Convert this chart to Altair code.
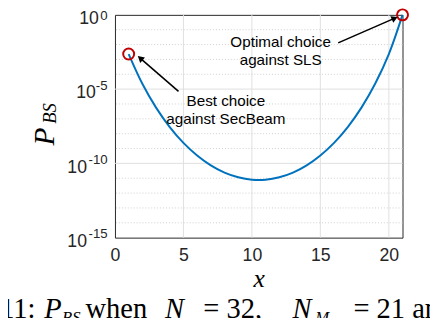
import altair as alt
import pandas as pd

# ---- data ----
x_vals = list(range(1, 22))
p_bs = [2.3e-3, 2.3e-5, 5.7e-7, 2.8e-8, 2.4e-9, 3.4e-10, 7.4e-11, 2.4e-11, 1.16e-11, 8.0e-12,
        8.0e-12, 1.16e-11, 2.4e-11, 7.4e-11, 3.4e-10, 2.4e-9, 2.8e-8, 5.7e-7, 2.3e-5, 2.3e-3, 1.0]

marked_x = [1, 21]
marked_p = [2.3e-3, 1.0]

x_ticks = [0, 5, 10, 15, 20]
y_major = [1.0, 1e-5, 1e-10, 1e-15]
y_exponents = ["0", "-5", "-10", "-15"]
y_minor = [1e-1, 1e-2, 1e-3, 1e-4, 1e-6, 1e-7, 1e-8, 1e-9,
           1e-11, 1e-12, 1e-13, 1e-14]

ann_text = ["Best choice\nagainst SecBeam", "Optimal choice\nagainst SLS"]
ann_x = [8.1, 12.1]
ann_y = [1.5e-6, 1.45e-2]

arrow_tail_x = [4.64, 16.3]
arrow_tail_y = [7.1e-6, 1.3e-2]
arrow_tip_x = [1.9, 20.36]
arrow_tip_y = [1.1e-3, 0.56]

# ---- scales and shared axes ----
xs = alt.Scale(domain=[0, 21], nice=False, zero=False)
ys = alt.Scale(type="log", domain=[1e-15, 1], nice=False)

x_axis = alt.Axis(
    values=x_ticks, title="x", grid=False, ticks=False, domain=False,
    labelFont="Liberation Sans", labelFontSize=18, labelColor="#262626",
    labelPadding=9, labelFlush=False, labelOverlap=False,
    titleFont="Liberation Serif", titleFontStyle="italic", titleFontWeight="normal",
    titleFontSize=26, titleColor="black", titleBaseline="alphabetic", titleY=50)
y_axis = alt.Axis(
    values=y_major, title="", grid=False, ticks=False, domain=False,
    labelExpr="'10'", labelFont="Liberation Sans", labelFontSize=18,
    labelColor="#262626", labelOffset=4, labelBaseline="middle",
    labelPadding={"condition": [{"test": "datum.value >= 0.5", "value": 17},
                                {"test": "datum.value > 1e-6", "value": 20}],
                  "value": 29},
    labelFlush=False, labelOverlap=False, labelBound=False)


def X(field):
    return alt.X(field, scale=xs, axis=x_axis)


def Y(field):
    return alt.Y(field, scale=ys, axis=y_axis)


curve = pd.DataFrame({"x": x_vals, "p": p_bs})
marks = pd.DataFrame({"x": marked_x, "p": marked_p})

vgrid = alt.Chart(pd.DataFrame({"x": x_ticks[1:]})).mark_rule(
    color="#dfdfdf", strokeWidth=1
).encode(x=X("x:Q"))

hgrid_major = alt.Chart(pd.DataFrame({"p": y_major[1:-1]})).mark_rule(
    color="#dfdfdf", strokeWidth=1
).encode(y=Y("p:Q"))

hgrid_minor = alt.Chart(pd.DataFrame({"p": y_minor})).mark_rule(
    color="#cfcfcf", strokeWidth=1, strokeDash=[1, 2]
).encode(y=Y("p:Q"))

exp_style = dict(font="Liberation Sans", fontSize=13.5, color="#262626",
                 align="right", baseline="alphabetic")
exps_top = alt.Chart(pd.DataFrame({"p": y_major[:1], "e": y_exponents[:1]})).mark_text(
    dy=5.5, **exp_style
).encode(x=alt.value(-7.5), y=Y("p:Q"), text="e:N")
exps = alt.Chart(pd.DataFrame({"p": y_major[1:], "e": y_exponents[1:]})).mark_text(
    dy=0.5, **exp_style
).encode(x=alt.value(-7.5), y=Y("p:Q"), text="e:N")

line = alt.Chart(curve).mark_line(color="#0072BD", strokeWidth=2,
                                  interpolate="catmull-rom").encode(
    x=X("x:Q"), y=Y("p:Q"))

circles = alt.Chart(marks).mark_point(
    shape="circle", size=125, color="#c00000", strokeWidth=2, filled=False, opacity=1
).encode(x=X("x:Q"), y=Y("p:Q"))

arrows_df = pd.DataFrame({"x": arrow_tail_x, "p": arrow_tail_y, "x2": arrow_tip_x, "p2": arrow_tip_y})
arrow_lines = alt.Chart(arrows_df).mark_rule(color="black", strokeWidth=1.6).encode(
    x=X("x:Q"), y=Y("p:Q"), x2="x2:Q", y2="p2:Q")

head1 = alt.Chart(pd.DataFrame({"x": arrow_tip_x[:1], "p": arrow_tip_y[:1]})).mark_point(
    shape="triangle", filled=True, color="black", size=55, angle=311, opacity=1
).encode(x=X("x:Q"), y=Y("p:Q"))
head2 = alt.Chart(pd.DataFrame({"x": arrow_tip_x[1:], "p": arrow_tip_y[1:]})).mark_point(
    shape="triangle", filled=True, color="black", size=55, angle=66, opacity=1
).encode(x=X("x:Q"), y=Y("p:Q"))

ann = alt.Chart(pd.DataFrame({"x": ann_x, "p": ann_y, "t": ann_text})).mark_text(
    font="Liberation Sans", fontSize=15.5, color="black", align="center",
    baseline="middle", lineBreak="\n", lineHeight=18
).encode(x=X("x:Q"), y=Y("p:Q"), text="t:N")


def piece(text, x, y, size, style="normal", font="Liberation Serif", angle=0):
    return alt.Chart(pd.DataFrame({"t": [text]})).mark_text(
        font=font, fontSize=size, fontStyle=style, align="left", baseline="alphabetic",
        angle=angle, color="black"
    ).encode(x=alt.value(x), y=alt.value(y), text="t:N")


ytitle = [
    piece("P", -62, 133, 30, "italic", angle=270),
    piece("BS", -60.5, 111, 19, "italic", angle=270),
]

caption = [
    piece("11:", -117, 309, 29),
    piece("P", -72, 309, 29, "italic"),
    piece("BS", -54, 314, 17, "italic"),
    piece("when", -30, 309, 29),
    piece("N", 51, 309, 29, "italic"),
    piece("= 32,", 90, 309, 29),
    piece("N", 181, 309, 29, "italic"),
    piece("M", 204, 314, 17, "italic"),
    piece("= 21 and", 243, 309, 29),
]

chart = alt.layer(
    vgrid, hgrid_minor, hgrid_major, line, circles, arrow_lines, head1, head2, ann,
    exps_top, exps, *ytitle, *caption
).properties(
    width=293, height=227,
    background="white",
    autosize=alt.AutoSizeParams(type="none"),
    padding={"left": 109, "top": 4, "right": 28, "bottom": 85},
).configure_view(stroke="#262626", strokeWidth=1)

chart.save("out.html", embed_options={"renderer": "svg", "actions": False})
